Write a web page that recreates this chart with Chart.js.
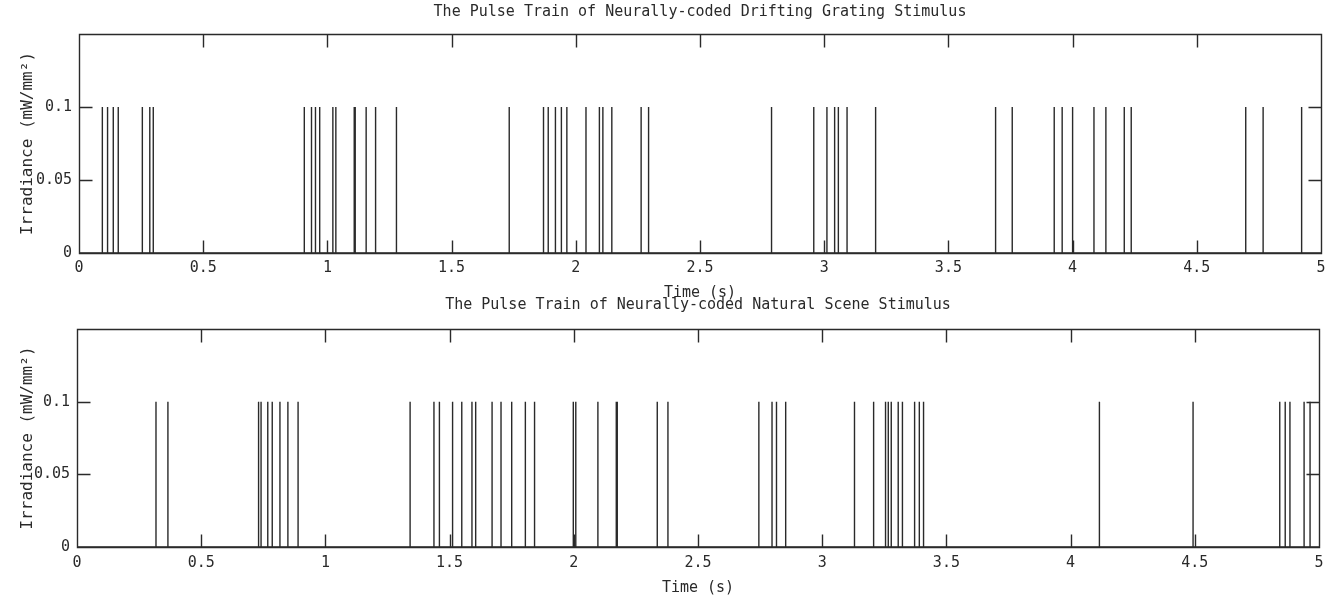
<!DOCTYPE html>
<html>
<head>
<title>Pulse Trains</title>
<style>
body { margin: 0; background: #fff; }
canvas { position: absolute; left: 0; }
#topChart { top: 0; }
#botChart { top: 290px; }
</style>
<script src="https://cdn.jsdelivr.net/npm/chart.js"></script>
</head>
<body>
<canvas id="topChart" width="1339" height="304"></canvas>
<canvas id="botChart" width="1339" height="311"></canvas>

<script>
// pulse onset times (s)
var gratingTimes = [0.094,0.115,0.138,0.158,0.255,0.285,0.299,0.907,0.936,0.952,0.969,1.022,1.034,1.108,1.112,1.156,1.194,1.278,
                    1.732,1.870,1.889,1.918,1.942,1.964,2.041,2.095,2.109,2.145,2.263,2.293,2.788,2.958,3.011,3.042,3.057,3.092,3.207,
                    3.690,3.757,3.926,3.958,4.000,4.086,4.134,4.208,4.236,4.697,4.767,4.922];
var naturalTimes = [0.318,0.366,0.731,0.741,0.768,0.786,0.817,0.849,0.890,1.341,1.437,1.459,1.512,1.549,1.590,1.605,
                    1.671,1.707,1.750,1.805,1.842,1.998,2.008,2.097,2.171,2.175,2.336,2.379,2.745,2.798,2.816,2.853,
                    3.130,3.207,3.255,3.266,3.278,3.306,3.323,3.372,3.391,3.408,4.116,4.493,4.842,4.864,4.883,4.940,4.964];
var pulseLevel = 0.1;
var yTicks = [0, 0.05, 0.1];

var FONT = "'DejaVu Sans Mono', 'Liberation Mono', monospace";
var INK = '#2a2a2a';

// turn pulse times into a trace: baseline, up, down
function pulseTrace(times) {
    var pts = [{x:0, y:0}];
    times.forEach(function(t) {
        pts.push({x:t, y:0}, {x:t, y:pulseLevel}, {x:t, y:0});
    });
    pts.push({x:5, y:0});
    return pts;
}

// box round the plot and inward ticks on all four sides
var framePlugin = {
    id: 'frame',
    afterDatasetsDraw: function(chart) {
        var ctx = chart.ctx, a = chart.chartArea;
        var x = chart.scales.x, y = chart.scales.y;
        var L = 13;
        ctx.save();
        ctx.strokeStyle = INK;
        ctx.lineWidth = 1.4;
        ctx.beginPath();
        var l = Math.round(a.left) + .5, r = Math.round(a.right) + .5;
        var t = Math.round(a.top) + .5, b = Math.round(a.bottom) + .5;
        ctx.rect(l, t, r - l, b - t);
        x.ticks.forEach(function(tk) {
            var px = Math.round(x.getPixelForValue(tk.value)) + .5;
            ctx.moveTo(px, b); ctx.lineTo(px, b - L);
            ctx.moveTo(px, t); ctx.lineTo(px, t + L);
        });
        y.ticks.forEach(function(tk) {
            var py = Math.round(y.getPixelForValue(tk.value)) + .5;
            ctx.moveTo(l, py); ctx.lineTo(l + L, py);
            ctx.moveTo(r, py); ctx.lineTo(r - L, py);
        });
        ctx.stroke();
        ctx.restore();
    }
};

function makeChart(id, title, times, cfg) {
    return new Chart(id, {
        type: 'line',
        data: {
            datasets: [{
                data: pulseTrace(times),
                borderColor: INK,
                borderWidth: 1.4,
                pointRadius: 0,
                tension: 0,
                fill: false
            }]
        },
        plugins: [framePlugin],
        options: {
            responsive: false,
            animation: false,
            events: [],
            layout: {padding: {left: 0, right: cfg.right, top: 0, bottom: 0}},
            plugins: {
                legend: {display: false},
                tooltip: {enabled: false},
                title: {
                    display: true,
                    fullSize: false,
                    text: title,
                    color: INK,
                    font: {family: FONT, size: 15, weight: 'normal'},
                    padding: {top: cfg.titleTop, bottom: cfg.titleBottom}
                }
            },
            scales: {
                x: {
                    type: 'linear',
                    min: 0, max: 5,
                    grid: {display: false, drawTicks: false},
                    border: {display: false},
                    ticks: {
                        stepSize: 0.5,
                        autoSkip: false,
                        maxRotation: 0,
                        padding: cfg.xPad,
                        color: INK,
                        font: {family: FONT, size: 15},
                        callback: function(v) { return String(Math.round(v * 100) / 100); }
                    },
                    title: {
                        display: true,
                        text: 'Time (s)',
                        color: INK,
                        font: {family: FONT, size: 15},
                        padding: {top: 0, bottom: cfg.xTitleBottom}
                    },
                    afterFit: function(s) { s.height = cfg.xHeight; }
                },
                y: {
                    min: 0, max: 0.15,
                    grid: {display: false, drawTicks: false},
                    border: {display: false},
                    afterBuildTicks: function(s) {
                        s.ticks = yTicks.map(function(v) { return {value: v}; });
                    },
                    ticks: {
                        padding: 7,
                        color: INK,
                        font: {family: FONT, size: 15},
                        callback: function(v) { return String(Math.round(v * 100) / 100); }
                    },
                    title: {
                        display: true,
                        text: 'Irradiance (mW/mm²)',
                        color: INK,
                        font: {family: FONT, size: 16},
                        padding: {top: 18, bottom: 0}
                    },
                    afterFit: function(s) { s.width = cfg.yWidth; }
                }
            }
        }
    });
}

makeChart('topChart', 'The Pulse Train of Neurally-coded Drifting Grating Stimulus', gratingTimes,
    {right: 18, titleTop: 3, titleBottom: 13, xPad: 6, xTitleBottom: 2, xHeight: 51, yWidth: 79});

makeChart('botChart', 'The Pulse Train of Neurally-coded Natural Scene Stimulus', naturalTimes,
    {right: 20, titleTop: 6, titleBottom: 15, xPad: 7, xTitleBottom: 4, xHeight: 54, yWidth: 77});
</script>
</body>
</html>
